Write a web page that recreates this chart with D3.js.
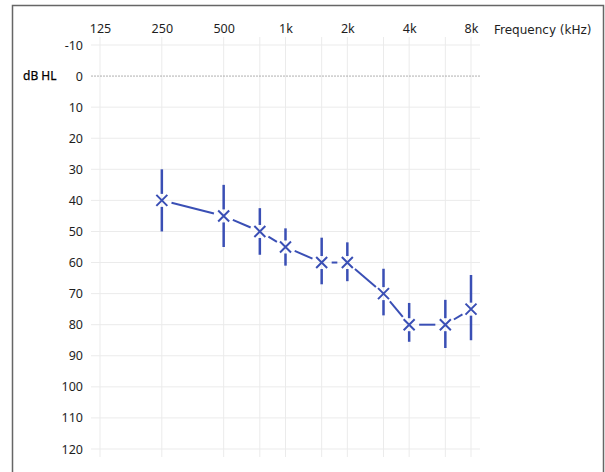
<!DOCTYPE html>
<html>
<head>
<meta charset="utf-8">
<script src="https://cdn.jsdelivr.net/npm/d3@7"></script>
<style>
  body { margin: 0; background: #fff; }
  text { font-family: "Noto Sans", "Open Sans", sans-serif; fill: #1e1e1e; }
</style>
</head>
<body>
<div id="chart"></div>
<script>
const freqs = [250, 500, 750, 1000, 1500, 2000, 3000, 4000, 6000, 8000];
const levels = [40, 45, 50, 55, 60, 60, 70, 80, 80, 75];
const lows = [30, 35, 42.5, 49, 52, 53.5, 62, 73, 72, 64];
const highs = [50, 55, 57.5, 61, 67, 66, 77, 85.5, 87.5, 85];

const freqTicks = [125, 250, 500, 1000, 2000, 4000, 8000];
const freqLabels = ['125', '250', '500', '1k', '2k', '4k', '8k'];
const gridFreqs = [125, 250, 500, 750, 1000, 1500, 2000, 3000, 4000, 6000, 8000];
const dbTicks = [-10, 0, 10, 20, 30, 40, 50, 60, 70, 80, 90, 100, 110, 120];

const W = 605, H = 472;
const blue = '#3a4fb5';

const svg = d3.select('#chart').append('svg')
    .attr('width', W)
    .attr('height', H);

// outer frame
svg.append('rect')
    .attr('x', 12.5).attr('y', 5.5)
    .attr('width', 591).attr('height', 480)
    .attr('fill', 'none')
    .attr('stroke', '#666')
    .attr('stroke-width', 1.5);

const x = d3.scaleLog().base(2)
    .domain([125, 8000])
    .range([100, 471]);

const y = d3.scaleLinear()
    .domain([-10, 120])
    .range([45, 449]);

// grid
svg.append('g')
    .selectAll('line')
    .data(gridFreqs)
    .enter().append('line')
    .attr('x1', d => x(d)).attr('x2', d => x(d))
    .attr('y1', 37).attr('y2', 457)
    .attr('stroke', '#ebebeb')
    .attr('stroke-width', 1);

svg.append('g')
    .selectAll('line')
    .data(dbTicks.filter(d => d !== 0))
    .enter().append('line')
    .attr('x1', 91).attr('x2', 480)
    .attr('y1', d => y(d)).attr('y2', d => y(d))
    .attr('stroke', '#ebebeb')
    .attr('stroke-width', 1);

svg.append('line')
    .attr('x1', 91).attr('x2', 480)
    .attr('y1', y(0)).attr('y2', y(0))
    .attr('stroke', '#999')
    .attr('stroke-width', 0.8)
    .attr('stroke-dasharray', '2,1');

// axes (labels only)
const xAxis = svg.append('g')
    .attr('transform', 'translate(0, 33)')
    .call(d3.axisTop(x).tickValues(freqTicks).tickFormat((d, i) => freqLabels[i]).tickSize(0));
xAxis.select('.domain').remove();
xAxis.selectAll('text').attr('font-size', 12.5).attr('dy', 0).attr('y', 0);

const yAxis = svg.append('g')
    .attr('transform', 'translate(83, 0)')
    .call(d3.axisLeft(y).tickValues(dbTicks).tickFormat(d => String(d)).tickSize(0));
yAxis.select('.domain').remove();
yAxis.selectAll('text').attr('font-size', 12.5).attr('x', 0);

svg.append('text')
    .attr('x', 23).attr('y', 80)
    .attr('font-size', 12)
    .style('fill', '#000')
    .style('stroke', '#000')
    .style('stroke-width', 0.25)
    .text('dB HL');

svg.append('text')
    .attr('x', 494).attr('y', 34)
    .attr('font-size', 12)
    .style('font-family', '"DejaVu Sans", sans-serif')
    .text('Frequency (kHz)');

// connecting segments with gaps near markers
const pts = freqs.map((f, i) => ({ f, v: levels[i], lo: lows[i], hi: highs[i] }));
const gap = 10;
const segs = d3.pairs(pts).map(([a, b]) => {
    const x1 = x(a.f), y1 = y(a.v), x2 = x(b.f), y2 = y(b.v);
    const len = Math.hypot(x2 - x1, y2 - y1);
    const ux = (x2 - x1) / len, uy = (y2 - y1) / len;
    return [x1 + ux * gap, y1 + uy * gap, x2 - ux * gap, y2 - uy * gap];
});
svg.append('g')
    .selectAll('line')
    .data(segs)
    .enter().append('line')
    .attr('x1', d => d[0]).attr('y1', d => d[1])
    .attr('x2', d => d[2]).attr('y2', d => d[3])
    .attr('stroke', blue)
    .attr('stroke-width', 2);

// error bars (split around the marker)
const bars = svg.append('g');
const barGap = 6.5;
bars.selectAll('.up')
    .data(pts)
    .enter().append('line')
    .attr('x1', d => x(d.f)).attr('x2', d => x(d.f))
    .attr('y1', d => y(d.lo)).attr('y2', d => y(d.v) - barGap)
    .attr('stroke', blue)
    .attr('stroke-width', 2.5);
bars.selectAll('.down')
    .data(pts)
    .enter().append('line')
    .attr('x1', d => x(d.f)).attr('x2', d => x(d.f))
    .attr('y1', d => y(d.v) + barGap).attr('y2', d => y(d.hi))
    .attr('stroke', blue)
    .attr('stroke-width', 2.5);

// X markers
const s = 5.5;
svg.append('g')
    .selectAll('path')
    .data(pts)
    .enter().append('path')
    .attr('d', d => {
        const cx = x(d.f), cy = y(d.v);
        return `M${cx - s},${cy - s}L${cx + s},${cy + s}M${cx - s},${cy + s}L${cx + s},${cy - s}`;
    })
    .attr('stroke', blue)
    .attr('stroke-width', 2)
    .attr('fill', 'none');
</script>
</body>
</html>
